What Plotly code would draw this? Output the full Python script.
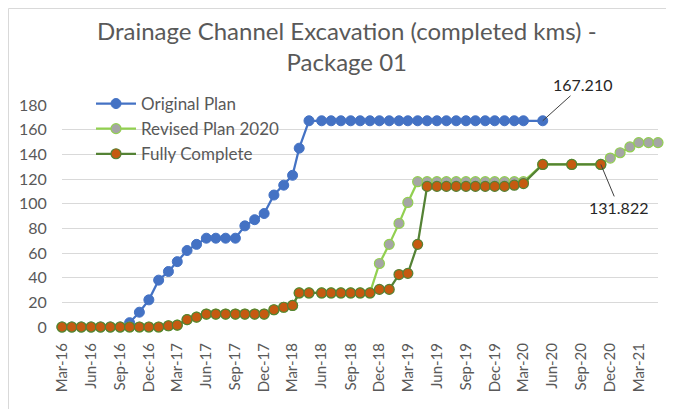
import plotly.graph_objects as go

# Shared category dates (Excel date axis)
dates = (
    [f"{2016 + (2 + i) // 12}-{(2 + i) % 12 + 1:02d}-01" for i in range(25)]  # Mar-16 .. Mar-18
    + ["2018-03-22", "2018-04-22"]
    + [f"{2018 + (5 + i) // 12}-{(5 + i) % 12 + 1:02d}-01" for i in range(22)]  # Jun-18 .. Mar-20
    + ["2020-05-01", "2020-08-01"]
    + [f"{2020 + (10 + i) // 12}-{(10 + i) % 12 + 1:02d}-01" for i in range(7)]  # Nov-20 .. May-21
)

original_plan = (
    [0, 0, 0, 0, 0, 0, 0, 3.5, 12, 22, 38, 45, 53, 62, 67, 72, 72, 72, 72, 82, 87, 92, 107, 115, 123]
    + [145, 167.21]
    + [167.21] * 22
    + [167.21, None]
    + [None] * 7
)

fully_complete = (
    [0] * 11 + [1, 1.5, 6, 8] + [10.5] * 7 + [14, 16, 17.5]
    + [27.6, 27.6]
    + [27.6] * 6 + [30.5, 30.5, 42.5, 43.5, 67] + [114] * 9 + [115, 116.3]
    + [131.822, 131.822]
    + [131.822] + [None] * 6
)

revised_plan = (
    fully_complete[:33]
    + [51.5, 67, 84, 101] + [117.8] * 12
    + [131.822, 131.822]
    + [131.822, 137, 141.3, 146, 149.5, 149.5, 149.5]
)

y_ticks = [0, 20, 40, 60, 80, 100, 120, 140, 160, 180]
x_ticks = [f"{2016 + (2 + 3 * i) // 12}-{(2 + 3 * i) % 12 + 1:02d}-01" for i in range(21)]

FONT = "Lato"
GREY_TXT = "#595959"

W, H = 674, 409
ML, MR, MT, MB = 54, 24, 97, 90
PW, PH = W - ML - MR, H - MT - MB

fig = go.Figure()
fig.add_trace(go.Scatter(
    x=dates, y=original_plan, name="Original Plan", mode="lines+markers",
    line=dict(color="#4472C4", width=2.25),
    marker=dict(size=10, color="#4472C4", line=dict(color="#4472C4", width=1)),
    cliponaxis=False,
))
fig.add_trace(go.Scatter(
    x=dates, y=revised_plan, name="Revised Plan 2020", mode="lines+markers",
    line=dict(color="#92D050", width=2.25),
    marker=dict(size=10, color="#A5A5A5", line=dict(color="#92D050", width=1.2)),
    cliponaxis=False,
))
fig.add_trace(go.Scatter(
    x=dates, y=fully_complete, name="Fully Complete", mode="lines+markers",
    line=dict(color="#548235", width=2.25),
    marker=dict(size=10, color="#C55A11", line=dict(color="#548235", width=1.2)),
    cliponaxis=False,
))

fig.add_annotation(x="2020-05-01", y=167.21, text="167.210", showarrow=True,
                   arrowhead=0, arrowwidth=1, arrowcolor="#404040", ax=40, ay=-36,
                   font=dict(family=FONT, size=16, color="#262626"))
fig.add_annotation(x="2020-11-01", y=131.822, text="131.822", showarrow=True,
                   arrowhead=0, arrowwidth=1, arrowcolor="#404040", ax=18, ay=43,
                   font=dict(family=FONT, size=16, color="#262626"))

# Title as a two-line centred annotation
fig.add_annotation(
    text="Drainage Channel Excavation (completed kms) -<br>Package 01",
    xref="paper", yref="paper", x=(339 - ML) / PW, y=1 + (MT - 38) / PH,
    xanchor="center", yanchor="middle", showarrow=False,
    font=dict(family=FONT, size=24, color=GREY_TXT),
)

# Chart-area border (light grey)
fig.add_shape(type="rect", xref="paper", yref="paper",
              x0=-(ML - 0.5) / PW, x1=1 + (MR + 20) / PW,
              y0=-(MB + 20) / PH, y1=1 + (MT - 0.5) / PH,
              line=dict(color="#D9D9D9", width=1), fillcolor="rgba(0,0,0,0)", layer="below")

fig.update_layout(
    width=W, height=H,
    margin=dict(l=ML, r=MR, t=MT, b=MB),
    paper_bgcolor="white", plot_bgcolor="white",
    font=dict(family=FONT, color=GREY_TXT),
    showlegend=True,
    legend=dict(x=(83 - ML) / PW, y=1 + (MT - 78) / PH, xanchor="left", yanchor="top",
                bgcolor="rgba(0,0,0,0)",
                font=dict(family=FONT, size=17, color=GREY_TXT), itemwidth=40,
                tracegroupgap=0),
    xaxis=dict(type="date", range=["2016-03-01", "2021-05-01"], tickvals=x_ticks,
               tickformat="%b-%y", tickangle=-90, showgrid=False, zeroline=False,
               showline=False, ticks="outside", ticklen=9, tickcolor="rgba(0,0,0,0)",
               tickfont=dict(family=FONT, size=15, color=GREY_TXT)),
    yaxis=dict(range=[0, 180], tickvals=y_ticks, showgrid=True, gridcolor="#D9D9D9",
               gridwidth=1, zeroline=False, showline=False, ticks="outside", ticklen=11,
               tickcolor="rgba(0,0,0,0)", tickfont=dict(family=FONT, size=16, color=GREY_TXT)),
)

fig.write_html("out.html")
